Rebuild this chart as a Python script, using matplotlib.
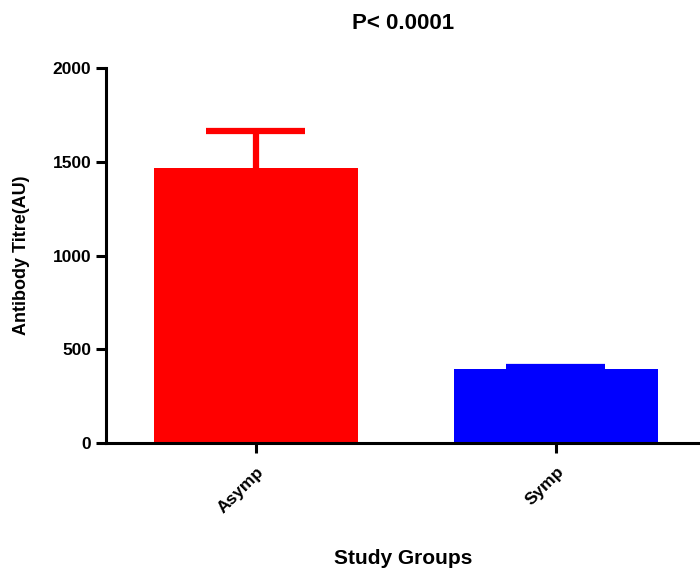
import matplotlib.pyplot as plt

# data
groups = ['Asymp', 'Symp']
means = [1467, 393]
sem_up = [197, 12]
colors = ['#ff0000', '#0000ff']

plt.rcParams['font.family'] = ['Liberation Sans', 'DejaVu Sans']
plt.rcParams['font.weight'] = 'bold'

fig = plt.figure(figsize=(7, 5.69), dpi=100)
ax = fig.add_axes([0.1514, 0.2214, 0.8486, 0.659])

x = list(range(len(groups)))
ax.bar(x, means, width=0.683, color=colors, zorder=2)
# upper-only error bars (stem + cap)
for xi, m, e, c in zip(x, means, sem_up, colors):
    ax.vlines(xi, m, m + e, colors=c, linewidth=4.5, zorder=3)
    ax.hlines(m + e, xi - 0.165, xi + 0.165, colors=c, linewidth=4.5, zorder=3)

ax.set_xlim(-0.5, 1.48)
ax.set_ylim(0, 2000)
ax.set_yticks([0, 500, 1000, 1500, 2000])
ax.set_xticks(x)
ax.set_xticklabels(groups, rotation=45, ha='right', rotation_mode='anchor',
                   fontsize=12.5, fontweight='bold')
ax.tick_params(axis='y', labelsize=12.5, width=2.2, length=7, direction='out')
ax.tick_params(axis='x', width=2.2, length=7, direction='out', pad=8)
for lbl in ax.get_yticklabels():
    lbl.set_fontweight('bold')

for s in ['top', 'right']:
    ax.spines[s].set_visible(False)
for s in ['left', 'bottom']:
    ax.spines[s].set_linewidth(2.2)

ax.set_ylabel('Antibody Titre(AU)', fontsize=13, fontweight='bold', labelpad=16)
ax.set_xlabel('Study Groups', fontsize=15, fontweight='bold', labelpad=24)
ax.set_title('P< 0.0001', fontsize=16, fontweight='bold', pad=28)

fig.savefig('out.png', dpi=100)
